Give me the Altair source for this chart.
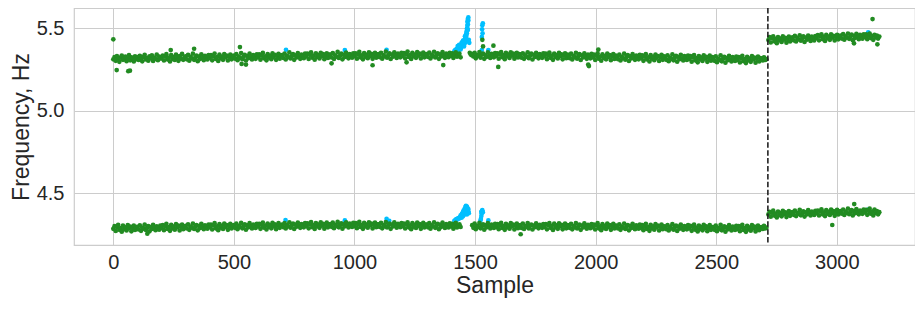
import altair as alt
import pandas as pd

GREEN = "#228b22"
BLUE = "#00bfff"
STEP = 5

# ---- upper band (values in mHz above 5 Hz), one value every STEP samples ----
UPPER_A_START = 0
UPPER_A = [
    312,326,303,331,318,297,322,335,309,319,328,301,315,337,306,324,320,299,330,313,
    325,308,333,316,300,327,339,311,321,304,330,318,336,302,323,314,341,307,328,319,
    317,334,305,328,343,311,322,299,337,314,326,308,340,320,303,331,316,345,309,325,
    330,312,339,304,327,318,346,309,323,335,301,328,315,342,320,307,333,324,311,338,
    321,338,306,331,347,314,326,302,340,318,329,309,344,323,335,305,327,341,312,332,
    334,316,343,307,329,321,350,313,327,339,305,332,319,346,324,311,337,328,315,342,
    325,342,310,335,351,318,330,306,344,322,333,313,348,327,339,309,331,345,316,336,
    338,320,347,311,333,325,354,317,331,343,309,336,323,350,328,315,341,332,319,346,
    329,346,314,339,355,322,334,310,348,326,337,317,352,331,343,313,335,349,320,340,
    341,323,350,314,336,328,357,320,334,346,312,339,326,353,331,318,344,335,322,349,
    331,348,316,341,357,324,336,312,350,328,339,319,354,333,345,315,337,351,322,342,
    343,325,352,316,338,330,359,322,336,348,314,341,328,355,333,320,346,337,324,351,
    333,350,318,343,359,326,338,314,352,330,341,321,356,335,347,317,339,353,324,344,
    344,326,353,317,339,331,358,323,337,349,315,342,329,356,334,321,347,338,325,352,
    333,349,320,341,355,328,337,346,324,
]
UPPER_B_START = 1488
UPPER_B = [
    343,329,352,318,338,333,356,322,341,347,315,336,327,354,331,320,345,339,324,350,
    332,348,316,341,356,325,337,313,351,329,340,320,355,334,346,316,338,352,323,343,
    340,322,349,315,336,328,355,319,334,346,311,339,326,352,330,318,344,335,321,348,
    329,346,313,338,353,321,334,309,347,326,337,317,351,331,342,312,335,349,319,340,
    337,319,346,311,333,325,352,316,331,343,308,336,323,349,327,315,341,332,318,345,
    324,341,308,333,348,316,329,304,342,321,332,312,346,326,337,307,330,344,314,335,
    331,313,340,305,327,319,346,310,325,337,302,330,317,343,321,309,335,326,312,339,
    319,336,303,328,343,311,324,299,337,316,327,307,341,321,332,302,325,339,309,330,
    327,309,336,301,323,315,342,306,321,333,298,326,313,339,317,305,331,322,308,335,
    314,331,298,323,338,306,319,294,332,311,322,302,336,316,327,297,320,334,304,325,
    321,303,330,295,317,309,336,300,315,327,292,320,307,333,311,299,325,316,302,329,
    309,326,293,318,333,301,314,289,327,306,317,297,331,311,322,292,315,329,299,320,
    317,305,324,308,313,
]
UPPER_C_START = 2716
UPPER_C = [
    429,446,414,439,452,421,434,410,447,426,437,417,451,431,442,413,435,449,420,440,
    445,427,454,420,441,433,458,425,439,451,417,444,431,456,436,423,449,440,426,453,
    442,459,427,452,464,434,447,423,460,439,450,430,463,444,455,426,448,461,433,453,
    456,438,465,431,452,444,468,436,450,462,428,455,442,466,447,434,460,451,437,463,
    448,464,434,457,468,441,453,430,461,445,456,438,450,
]

# ---- lower band (values in mHz above 4 Hz) ----
LOWER_A_START = 0
LOWER_A = [
    285,301,272,296,309,279,290,268,304,283,294,275,308,288,299,270,291,305,278,295,
    297,281,306,273,293,286,311,278,291,302,270,296,284,309,289,277,300,292,280,305,
    291,307,277,301,315,284,296,273,309,288,299,280,313,293,304,275,297,311,283,300,
    303,287,312,279,299,292,317,284,297,308,276,302,290,315,295,283,306,298,286,311,
    295,311,281,305,319,288,300,277,313,292,303,284,317,297,308,279,301,315,287,304,
    307,291,316,283,303,296,321,288,301,312,280,306,294,319,299,287,310,302,290,315,
    299,315,285,309,323,292,304,281,317,296,307,288,321,301,312,283,305,319,291,308,
    311,295,320,287,307,300,325,292,305,316,284,310,298,323,303,291,314,306,294,319,
    302,318,288,312,326,295,307,284,320,299,310,291,324,304,315,286,308,322,294,311,
    313,297,322,289,309,302,327,294,307,318,286,312,300,325,305,293,316,308,296,321,
    303,319,289,313,327,296,308,285,321,300,311,292,325,305,316,287,309,323,295,312,
    312,296,321,288,308,301,326,293,306,317,285,311,299,324,304,292,315,307,295,320,
    301,317,287,311,325,294,306,283,319,298,309,290,323,303,314,285,307,321,293,310,
    310,294,319,286,306,299,324,291,304,315,283,309,297,322,302,290,313,305,293,318,
    299,315,286,308,321,293,304,312,296,
]
LOWER_B_START = 1488
LOWER_B = [
    307,291,316,283,303,296,321,288,301,312,280,306,294,319,299,287,310,302,290,315,
    297,313,283,307,321,290,302,279,315,294,305,286,319,299,310,281,303,317,289,306,
    308,290,317,284,302,297,320,287,303,311,281,305,295,318,298,288,309,301,291,314,
    296,314,282,308,320,291,303,278,316,293,306,285,318,300,309,282,304,316,288,307,
    306,290,315,282,302,295,320,287,300,311,279,305,293,318,298,286,309,301,289,314,
    295,311,281,305,319,288,300,277,313,292,303,284,317,297,308,279,301,315,287,304,
    303,287,312,279,299,292,317,284,297,308,276,302,290,315,295,283,306,298,286,311,
    291,307,277,301,315,284,296,273,309,288,299,280,313,293,304,275,297,311,283,300,
    299,283,308,275,295,288,313,280,293,304,272,298,286,311,291,279,302,294,282,307,
    287,303,273,297,311,280,292,269,305,284,295,276,309,289,300,271,293,307,279,296,
    295,279,304,271,291,284,309,276,289,300,268,294,282,307,287,275,298,290,278,303,
    285,301,271,295,309,278,290,267,303,282,293,274,307,287,298,269,291,305,277,294,
    296,284,303,287,292,
]
LOWER_C_START = 2716
LOWER_C = [
    372,388,358,382,395,365,377,354,390,369,380,361,394,374,385,356,378,392,364,383,
    386,370,395,362,382,375,400,367,380,391,359,385,373,398,378,366,389,381,369,394,
    380,396,366,390,403,373,385,362,398,377,388,369,402,382,393,364,386,400,372,391,
    393,377,402,369,389,382,407,374,387,398,366,392,380,405,385,373,396,388,376,401,
    384,400,370,394,407,377,389,366,402,381,392,373,386,
]

# ---- scattered green points (sample, mHz) ----
UPPER_EXTRA_X = [0, 14, 62, 69, 238, 335, 525, 532, 550, 905, 1075, 1216, 1368, 1478, 1482, 1486,
                 1530, 1533, 1576, 1596, 1969, 1972, 2011, 3071, 3148, 3168]
UPPER_EXTRA_Y = [433, 247, 240, 243, 368, 376, 386, 284, 280, 288, 276, 294, 277, 352, 342, 337,
                 430, 390, 395, 266, 280, 271, 371, 409, 556, 403]
LOWER_EXTRA_X = [141, 1689, 2981, 3072]
LOWER_EXTRA_Y = [255, 252, 308, 435]

# ---- anomalous (blue) points (sample, mHz) ----
UPPER_BLUE_X = [716, 960, 1133, 1414, 1418, 1420, 1424, 1426, 1430, 1432, 1436, 1438, 1440, 1442, 1446,
                1448, 1450, 1452, 1454, 1456, 1458, 1460, 1460, 1462, 1464, 1464, 1466, 1466, 1468, 1468,
                1470, 1470, 1472, 1472, 1474, 1476, 1528, 1532, 1530, 1529, 1531, 1528, 1555, 3130,
                1428, 1434, 1440, 1444, 1450, 1454, 1458, 1462, 1466, 1470, 1468, 1464, 1456, 1448, 1436]
UPPER_BLUE_Y = [370, 368, 369, 362, 370, 358, 375, 366, 381, 371, 388, 378, 395, 384, 402,
                392, 410, 398, 421, 405, 436, 447, 415, 462, 478, 420, 497, 432, 515, 540,
                556, 525, 566, 548, 430, 412, 368, 530, 518, 494, 470, 448, 368, 476,
                392, 400, 372, 412, 425, 390, 452, 440, 470, 490, 500, 455, 428, 418, 380]
LOWER_BLUE_X = [714, 960, 1133, 1144, 1414, 1418, 1422, 1426, 1430, 1434, 1438, 1442, 1444, 1448, 1450,
                1452, 1454, 1456, 1458, 1460, 1462, 1464, 1466, 1468, 1470, 1472, 1474, 1470, 1466,
                1522, 1524, 1526, 1527, 1528, 1530, 1532, 1555, 3130,
                1440, 1446, 1452, 1456, 1460, 1462, 1464, 1458, 1450, 1468, 1472, 1436, 1526, 1530]
LOWER_BLUE_Y = [338, 336, 345, 334, 334, 338, 344, 341, 350, 347, 356, 362, 352, 370, 361,
                380, 372, 392, 384, 405, 398, 415, 420, 410, 402, 392, 380, 388, 372,
                334, 345, 362, 378, 392, 398, 386, 336, 402,
                366, 378, 395, 404, 418, 424, 403, 396, 386, 398, 405, 352, 388, 384]

CHANGE_POINT = [2714]


def band(start, vals, base):
    return [(start + STEP * i, base + v / 1000.0) for i, v in enumerate(vals)]


green_pts = []
green_pts += band(UPPER_A_START, UPPER_A, 5)
green_pts += band(UPPER_B_START, UPPER_B, 5)
green_pts += band(UPPER_C_START, UPPER_C, 5)
green_pts += band(LOWER_A_START, LOWER_A, 4)
green_pts += band(LOWER_B_START, LOWER_B, 4)
green_pts += band(LOWER_C_START, LOWER_C, 4)
green_pts += [(x, 5 + y / 1000.0) for x, y in zip(UPPER_EXTRA_X, UPPER_EXTRA_Y)]
green_pts += [(x, 4 + y / 1000.0) for x, y in zip(LOWER_EXTRA_X, LOWER_EXTRA_Y)]
df_green = pd.DataFrame(green_pts, columns=["sample", "freq"])

blue_pts = [(x, 5 + y / 1000.0) for x, y in zip(UPPER_BLUE_X, UPPER_BLUE_Y)]
blue_pts += [(x, 4 + y / 1000.0) for x, y in zip(LOWER_BLUE_X, LOWER_BLUE_Y)]
df_blue = pd.DataFrame(blue_pts, columns=["sample", "freq"])

df_rule = pd.DataFrame({"sample": CHANGE_POINT})

FONT = "Liberation Sans"
xs = alt.Scale(domain=[-163, 3324], nice=False, zero=False)
ys = alt.Scale(domain=[4.187, 5.623], nice=False, zero=False)
xax = alt.Axis(values=[0, 500, 1000, 1500, 2000, 2500, 3000], format="d", title="Sample",
               labelPadding=7, titlePadding=2)
yax = alt.Axis(values=[4.5, 5.0, 5.5], format=".1f", title="Frequency, Hz",
               labelPadding=10, titlePadding=3)

X = alt.X("sample:Q", scale=xs, axis=xax)
Y = alt.Y("freq:Q", scale=ys, axis=yax)

blue = alt.Chart(df_blue).mark_circle(size=22, opacity=1, color=BLUE).encode(x=X, y=Y)
green = alt.Chart(df_green).mark_circle(size=22, opacity=1, color=GREEN).encode(x=X, y=Y)
rule = alt.Chart(df_rule).mark_rule(strokeDash=[5.5, 2.4], strokeWidth=1.6, color="#222222").encode(
    x=alt.X("sample:Q", scale=xs))

chart = (
    alt.layer(blue, green, rule)
    .properties(width=841, height=237, autosize=alt.AutoSizeParams(type="none"),
                padding={"left": 66, "top": 0, "right": 0, "bottom": 54})
    .configure_axis(gridColor="#cccccc", gridWidth=1, domain=False, ticks=False,
                    labelFont=FONT, labelFontSize=20, labelColor="#262626",
                    titleFont=FONT, titleFontSize=23, titleFontWeight="normal", titleColor="#262626")
    .configure_view(stroke="#cccccc", strokeWidth=1.2)
)

chart.save("out.html", embed_options={"renderer": "svg", "actions": False})
